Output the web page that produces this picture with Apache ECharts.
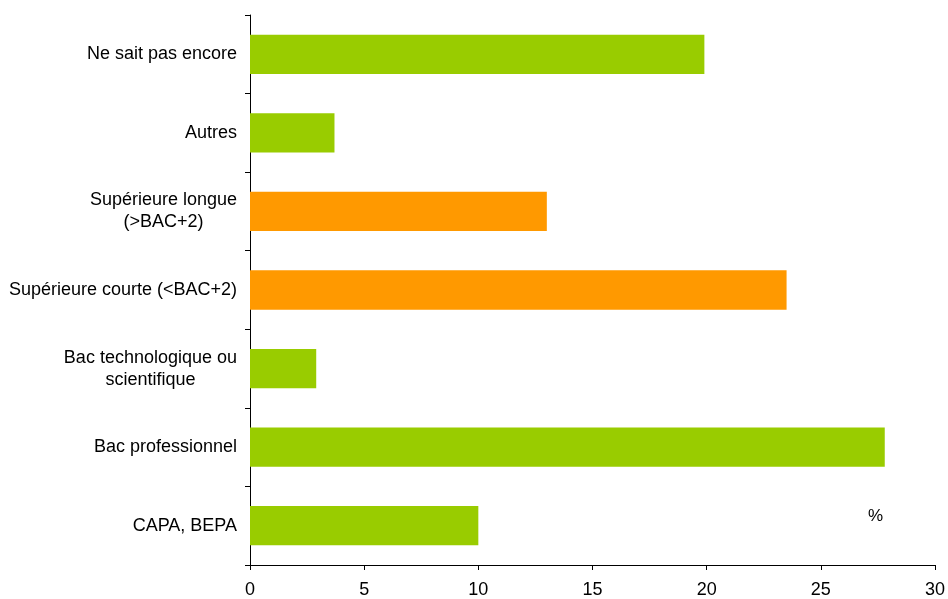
<!DOCTYPE html>
<html>
<head>
<meta charset="utf-8">
<script src="https://cdn.jsdelivr.net/npm/echarts@6/dist/echarts.min.js"></script>
<style>
  html, body { margin: 0; padding: 0; background: #ffffff; }
  #chart { width: 948px; height: 599px; }
</style>
</head>
<body>
<div id="chart"></div>
<script>
// Diplôme visé — top to bottom
const categories = [
  'Ne sait pas encore',
  'Autres',
  'Supérieure longue\n(>BAC+2)',
  'Supérieure courte (<BAC+2)',
  'Bac technologique ou\nscientifique',
  'Bac professionnel',
  'CAPA, BEPA'
];
const values = [19.9, 3.7, 13.0, 23.5, 2.9, 27.8, 10.0];
const higherEducation = [false, false, true, true, false, false, false];
const xTicks = [0, 5, 10, 15, 20, 25, 30];

const GREEN = '#99CC00';
const ORANGE = '#FF9900';
const FONT = 'Liberation Sans, Arial, sans-serif';

const chart = echarts.init(document.getElementById('chart'));

chart.setOption({
  animation: false,
  backgroundColor: '#ffffff',
  grid: { left: 250, right: 11, top: 15, bottom: 33, containLabel: false },
  xAxis: {
    type: 'value',
    min: xTicks[0],
    max: xTicks[xTicks.length - 1],
    interval: xTicks[1] - xTicks[0],
    axisLine: { show: true, lineStyle: { color: '#000', width: 1 } },
    axisTick: { show: true, length: 5, lineStyle: { color: '#000' } },
    splitLine: { show: false },
    axisLabel: { color: '#000', fontSize: 18, fontFamily: FONT, margin: 16 }
  },
  yAxis: {
    type: 'category',
    data: categories,
    inverse: true,
    axisLine: { show: true, lineStyle: { color: '#000', width: 1 } },
    axisTick: { show: true, length: 5, lineStyle: { color: '#000' } },
    axisLabel: {
      color: '#000',
      fontSize: 18,
      fontFamily: FONT,
      margin: 13,
      // each line is its own centred token so wrapped labels are centred in their block
      formatter: (v) => v.split('\n').map((line) => '{c|' + line + '}').join('\n'),
      rich: {
        c: { align: 'center', fontSize: 18, fontFamily: FONT, color: '#000', lineHeight: 22 }
      }
    },
    splitLine: { show: false }
  },
  series: [{
    type: 'bar',
    barWidth: '50%',
    data: values.map((v, i) => ({
      value: v,
      itemStyle: { color: higherEducation[i] ? ORANGE : GREEN }
    }))
  }],
  graphic: [{
    type: 'text',
    left: 868,
    top: 508,
    style: { text: '%', fill: '#000', font: '17px Liberation Sans, Arial, sans-serif' }
  }]
});
</script>
</body>
</html>
